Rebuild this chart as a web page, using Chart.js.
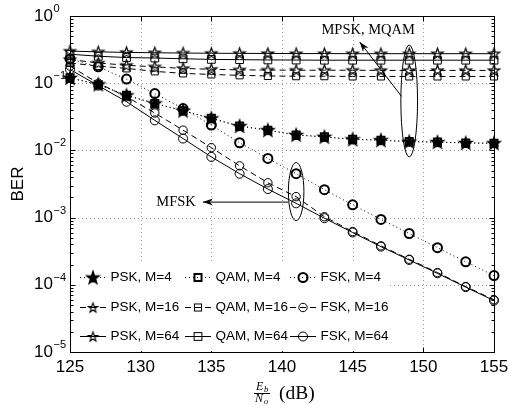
<!DOCTYPE html>
<html>
<head>
  <title>BER vs Eb/No</title>
  <script src="https://cdn.jsdelivr.net/npm/chart.js"></script>
  <style>
    body { margin: 0; background: #fff; }
    canvas { display: block; }
  </style>
</head>
<body>
  <canvas id="berChart" width="508" height="406"></canvas>
  <script>
    // Eb/No sample points (dB)
    const ebno = [125, 127, 129, 131, 133, 135, 137, 139, 141, 143, 145, 147, 149, 151, 153, 155];

    const pskM4  = [0.12, 0.096, 0.066, 0.050, 0.039, 0.030, 0.023, 0.020, 0.017, 0.0159, 0.0146, 0.0142, 0.0135, 0.0133, 0.0129, 0.0128];
    const qamM4  = [0.12, 0.095, 0.066, 0.050, 0.039, 0.030, 0.023, 0.020, 0.017, 0.0159, 0.0146, 0.0142, 0.0135, 0.0133, 0.0129, 0.0128];
    const fskM4  = [0.23, 0.175, 0.115, 0.070, 0.042, 0.0238, 0.013, 0.0076, 0.0045, 0.0026, 0.00155, 0.00094, 0.00058, 0.000357, 0.00022, 0.000137];
    const pskM16 = [0.225, 0.20, 0.185, 0.175, 0.166, 0.161, 0.158, 0.157, 0.156, 0.156, 0.156, 0.155, 0.155, 0.155, 0.155, 0.155];
    const qamM16 = [0.20, 0.18, 0.166, 0.150, 0.140, 0.135, 0.131, 0.128, 0.127, 0.127, 0.126, 0.126, 0.126, 0.126, 0.126, 0.126];
    const fskM16 = [0.18, 0.10, 0.063, 0.036, 0.020, 0.011, 0.0059, 0.0033, 0.00205, 0.00103, 0.00062, 0.00038, 0.00024, 0.000152, 0.000094, 0.00006];
    const pskM64 = [0.30, 0.293, 0.287, 0.284, 0.281, 0.279, 0.278, 0.277, 0.276, 0.276, 0.275, 0.275, 0.275, 0.275, 0.275, 0.275];
    const qamM64 = [0.27, 0.252, 0.241, 0.237, 0.231, 0.226, 0.224, 0.222, 0.221, 0.220, 0.220, 0.220, 0.220, 0.220, 0.220, 0.220];
    const fskM64 = [0.16, 0.092, 0.053, 0.028, 0.015, 0.008, 0.0045, 0.00266, 0.00163, 0.00098, 0.0006, 0.00037, 0.000234, 0.000148, 0.0000922, 0.0000582];

    const xTicks = [125, 130, 135, 140, 145, 150, 155];
    const xTickLabels = ['125', '130', '135', '140', '145', '150', '155'];
    const yTicks = [1e-5, 1e-4, 1e-3, 1e-2, 1e-1, 1e0];
    const yTickExps = ['−5', '−4', '−3', '−2', '−1', '0'];

    const seriesNames = ['PSK, M=4', 'QAM, M=4', 'FSK, M=4',
                         'PSK, M=16', 'QAM, M=16', 'FSK, M=16',
                         'PSK, M=64', 'QAM, M=64', 'FSK, M=64'];

    // pentagram marker drawn on a small canvas
    function makeStar(R, filled, lw) {
      const c = document.createElement('canvas');
      const s = Math.ceil(2 * R + 2 * lw + 2);
      c.width = c.height = s;
      const g = c.getContext('2d');
      g.translate(s / 2, s / 2 + 0.5);
      g.beginPath();
      for (let k = 0; k < 10; k++) {
        const r = k % 2 ? R * 0.4 : R;
        const a = -Math.PI / 2 + k * Math.PI / 5;
        const px = r * Math.cos(a), py = r * Math.sin(a);
        if (k) g.lineTo(px, py); else g.moveTo(px, py);
      }
      g.closePath();
      if (filled) { g.fillStyle = '#000'; g.fill(); }
      g.lineWidth = lw;
      g.strokeStyle = '#000';
      g.stroke();
      return c;
    }
    const starBold = makeStar(6.5, true, 1.4);
    const starThin = makeStar(6, false, 1.15);
    const starSmall = makeStar(5, false, 1.1);

    const DOT = [1, 3], DASH = [6, 4], SOLID = [];

    function series(label, vals, dash, style, radius, bw) {
      return {
        label: label,
        data: ebno.map((x, i) => ({ x: x, y: vals[i] })),
        borderColor: '#000',
        borderWidth: 1,
        borderDash: dash,
        pointStyle: style,
        pointRadius: radius,
        pointBorderWidth: bw,
        pointBorderColor: '#000',
        pointBackgroundColor: 'rgba(0,0,0,0)',
        fill: false,
        tension: 0,
        clip: false
      };
    }

    const datasets = [
      series(seriesNames[0], pskM4, DOT, starBold, 6, 1),
      series(seriesNames[1], qamM4, DOT, 'rect', 5, 2),
      series(seriesNames[2], fskM4, DOT, 'circle', 4.5, 2),
      series(seriesNames[3], pskM16, DASH, starThin, 6, 1),
      series(seriesNames[4], qamM16, DASH, 'rect', 5, 1),
      series(seriesNames[5], fskM16, DASH, 'circle', 4.2, 1),
      series(seriesNames[6], pskM64, SOLID, starThin, 6, 1),
      series(seriesNames[7], qamM64, SOLID, 'rect', 5.5, 1),
      series(seriesNames[8], fskM64, SOLID, 'circle', 4.5, 1)
    ];

    // grid, box, ticks and labels in MATLAB style
    const axesPlugin = {
      id: 'matlabAxes',
      beforeDatasetsDraw(chart) {
        const { ctx, chartArea: a, scales: { x, y } } = chart;
        ctx.save();
        ctx.strokeStyle = '#999';
        ctx.lineWidth = 1;
        ctx.setLineDash([1, 3]);
        xTicks.slice(1, -1).forEach(v => {
          const px = Math.round(x.getPixelForValue(v)) + 0.5;
          ctx.beginPath(); ctx.moveTo(px, a.top); ctx.lineTo(px, a.bottom); ctx.stroke();
        });
        yTicks.slice(1, -1).forEach(v => {
          const py = Math.round(y.getPixelForValue(v)) + 0.5;
          ctx.beginPath(); ctx.moveTo(a.left, py); ctx.lineTo(a.right, py); ctx.stroke();
        });
        ctx.restore();
      },
      afterDraw(chart) {
        const { ctx, chartArea: a, scales: { x, y } } = chart;
        ctx.save();
        ctx.strokeStyle = '#000';
        ctx.lineWidth = 1;
        ctx.setLineDash([]);
        const L = Math.round(a.left) + 0.5, R = Math.round(a.right) + 0.5;
        const T = Math.round(a.top) + 0.5, B = Math.round(a.bottom) + 0.5;
        ctx.beginPath();
        // x ticks top and bottom
        xTicks.forEach(v => {
          const px = Math.round(x.getPixelForValue(v)) + 0.5;
          ctx.moveTo(px, B); ctx.lineTo(px, B - 5);
          ctx.moveTo(px, T); ctx.lineTo(px, T + 5);
        });
        // y major and minor ticks left and right
        yTicks.forEach((v, i) => {
          const py = Math.round(y.getPixelForValue(v)) + 0.5;
          ctx.moveTo(L, py); ctx.lineTo(L + 5, py);
          ctx.moveTo(R, py); ctx.lineTo(R - 5, py);
          if (i < yTicks.length - 1) {
            for (let m = 2; m <= 9; m++) {
              const pm = Math.round(y.getPixelForValue(v * m)) + 0.5;
              ctx.moveTo(L, pm); ctx.lineTo(L + 3, pm);
              ctx.moveTo(R, pm); ctx.lineTo(R - 3, pm);
            }
          }
        });
        ctx.stroke();
        ctx.strokeRect(L, T, R - L, B - T);

        // tick labels
        ctx.fillStyle = '#000';
        ctx.font = '17px "Liberation Sans", Arial, sans-serif';
        ctx.textAlign = 'center';
        ctx.textBaseline = 'alphabetic';
        xTicks.forEach((v, i) => {
          ctx.fillText(xTickLabels[i], x.getPixelForValue(v), a.bottom + 20);
        });
        yTicks.forEach((v, i) => {
          const py = y.getPixelForValue(v);
          ctx.font = '17px "Liberation Sans", Arial, sans-serif';
          ctx.textAlign = 'right';
          ctx.fillText('10', a.left - 17, py + 4.5);
          ctx.font = '11px "Liberation Sans", Arial, sans-serif';
          ctx.textAlign = 'left';
          ctx.fillText(yTickExps[i], a.left - 16.5, py - 4);
        });

        // y title
        ctx.save();
        ctx.font = '17px "Liberation Sans", Arial, sans-serif';
        ctx.textAlign = 'center';
        ctx.textBaseline = 'middle';
        ctx.translate(18, (a.top + a.bottom) / 2);
        ctx.rotate(-Math.PI / 2);
        ctx.fillText('BER', 0, 0);
        ctx.restore();

        // x title: Eb/No (dB)
        const cx = (a.left + a.right) / 2;
        const fx = cx - 20;
        ctx.textAlign = 'left';
        ctx.textBaseline = 'alphabetic';
        ctx.font = 'italic 12px "Liberation Serif", "Times New Roman", serif';
        ctx.fillText('E', fx - 6, a.bottom + 38);
        ctx.fillText('N', fx - 7, a.bottom + 50);
        ctx.font = 'italic 8.5px "Liberation Serif", "Times New Roman", serif';
        ctx.fillText('b', fx + 2, a.bottom + 40);
        ctx.fillText('o', fx + 2, a.bottom + 52);
        ctx.beginPath();
        ctx.moveTo(fx - 8, a.bottom + 41.5);
        ctx.lineTo(fx + 8, a.bottom + 41.5);
        ctx.stroke();
        ctx.font = '19.5px "Liberation Serif", "Times New Roman", serif';
        ctx.fillText('(dB)', fx + 17, a.bottom + 47);
        ctx.restore();
      }
    };

    // ellipse / arrow annotations, given in data units
    const groupNotes = [
      { text: 'MPSK, MQAM', cx: 149, yTop: 0.37, yBot: 0.008, halfW: 0.59,
        arrowFrom: [148.45, 0.064], arrowTo: [145.5, 0.41], textAt: [146.1, 0.61] },
      { text: 'MFSK', cx: 141, yTop: 0.0066, yBot: 0.0009, halfW: 0.55,
        arrowFrom: [140.45, 0.0017], arrowTo: [134.4, 0.0017], textAt: [133.9, 0.0017], alignRight: true }
    ];

    const notesPlugin = {
      id: 'notes',
      afterDatasetsDraw(chart) {
        const { ctx, scales: { x, y } } = chart;
        ctx.save();
        ctx.strokeStyle = '#000';
        ctx.fillStyle = '#000';
        ctx.lineWidth = 1;
        ctx.setLineDash([]);
        groupNotes.forEach(n => {
          const px = x.getPixelForValue(n.cx);
          const pt = y.getPixelForValue(n.yTop), pb = y.getPixelForValue(n.yBot);
          const rx = x.getPixelForValue(n.cx + n.halfW) - px;
          ctx.beginPath();
          ctx.ellipse(px, (pt + pb) / 2, rx, (pb - pt) / 2, 0, 0, Math.PI * 2);
          ctx.stroke();

          const x0 = x.getPixelForValue(n.arrowFrom[0]), y0 = y.getPixelForValue(n.arrowFrom[1]);
          const x1 = x.getPixelForValue(n.arrowTo[0]), y1 = y.getPixelForValue(n.arrowTo[1]);
          ctx.beginPath(); ctx.moveTo(x0, y0); ctx.lineTo(x1, y1); ctx.stroke();
          const ang = Math.atan2(y1 - y0, x1 - x0);
          ctx.beginPath();
          ctx.moveTo(x1, y1);
          ctx.lineTo(x1 - 10 * Math.cos(ang) + 3.5 * Math.sin(ang), y1 - 10 * Math.sin(ang) - 3.5 * Math.cos(ang));
          ctx.lineTo(x1 - 7 * Math.cos(ang), y1 - 7 * Math.sin(ang));
          ctx.lineTo(x1 - 10 * Math.cos(ang) - 3.5 * Math.sin(ang), y1 - 10 * Math.sin(ang) + 3.5 * Math.cos(ang));
          ctx.closePath();
          ctx.fill();

          ctx.font = '14.5px "Liberation Serif", "Times New Roman", serif';
          ctx.textAlign = n.alignRight ? 'right' : 'center';
          ctx.textBaseline = 'middle';
          ctx.fillText(n.text, x.getPixelForValue(n.textAt[0]), y.getPixelForValue(n.textAt[1]));
        });
        ctx.restore();
      }
    };

    // legend, 3 x 3, inside lower-left of the axes
    const legendPlugin = {
      id: 'gridLegend',
      afterDraw(chart) {
        const { ctx, chartArea: a } = chart;
        const colX = [a.left + 10, a.left + 115, a.left + 220];
        const rowY = [a.bottom - 75, a.bottom - 45, a.bottom - 16];
        ctx.save();
        ctx.fillStyle = '#fff';
        ctx.fillRect(a.left + 6, a.bottom - 90, 312, 89);
        chart.data.datasets.forEach((ds, i) => {
          const lx = colX[i % 3], ly = Math.round(rowY[Math.floor(i / 3)]) + 0.5;
          ctx.strokeStyle = '#000';
          ctx.lineWidth = 1;
          ctx.setLineDash(ds.borderDash);
          ctx.beginPath(); ctx.moveTo(lx, ly); ctx.lineTo(lx + 26, ly); ctx.stroke();
          ctx.setLineDash([]);
          const mx = lx + 13;
          ctx.lineWidth = ds.pointBorderWidth;
          if (ds.pointStyle === 'circle') {
            ctx.beginPath(); ctx.arc(mx, ly, ds.pointRadius, 0, Math.PI * 2); ctx.stroke();
          } else if (ds.pointStyle === 'rect') {
            const h = ds.pointRadius * Math.SQRT1_2;
            ctx.strokeRect(mx - h, ly - h, 2 * h, 2 * h);
          } else {
            const img = ds.pointStyle === starBold ? starBold : starSmall;
            ctx.drawImage(img, mx - img.width / 2, ly - img.height / 2);
          }
          ctx.fillStyle = '#000';
          ctx.font = '13.5px "Liberation Sans", Arial, sans-serif';
          ctx.textAlign = 'left';
          ctx.textBaseline = 'middle';
          ctx.fillText(ds.label, lx + 30.5, ly);
        });
        ctx.restore();
      }
    };

    new Chart(document.getElementById('berChart').getContext('2d'), {
      type: 'line',
      data: { datasets: datasets },
      options: {
        responsive: false,
        animation: false,
        layout: { padding: { left: 70, right: 14, top: 16, bottom: 54 } },
        plugins: { legend: { display: false }, tooltip: { enabled: false } },
        scales: {
          x: { type: 'linear', min: 125, max: 155, display: false },
          y: { type: 'logarithmic', min: 1e-5, max: 1, display: false }
        }
      },
      plugins: [axesPlugin, notesPlugin, legendPlugin]
    });
  </script>
</body>
</html>
